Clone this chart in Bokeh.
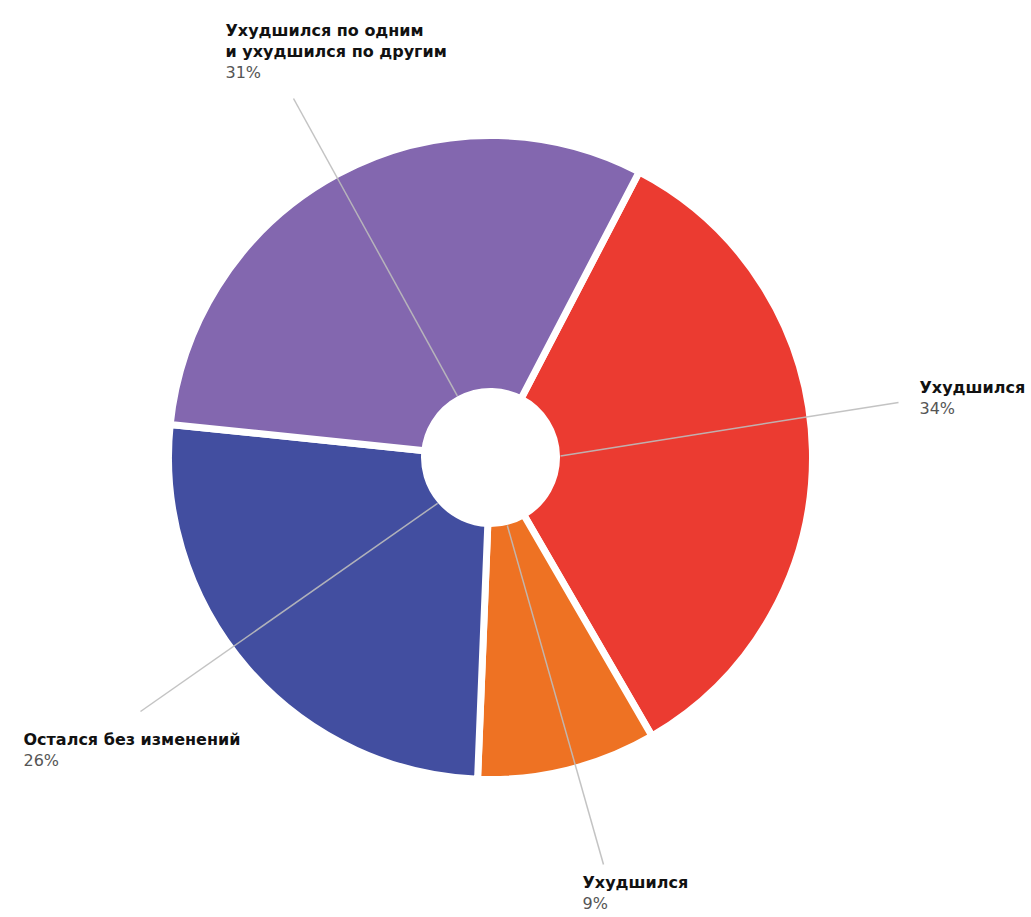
import math
from bokeh.plotting import figure
from bokeh.models import Range1d, ColumnDataSource
from bokeh.core.properties import value
from bokeh.embed import file_html
from bokeh.resources import INLINE

# ---- data ----
categories = ["Ухудшился", "Ухудшился", "Остался без изменений",
              "Ухудшился по одним|и ухудшился по другим"]
values = [34, 9, 26, 31]
pct_labels = ["34%", "9%", "26%", "31%"]
colors = ["#eb3b31", "#ee7223", "#424ea0", "#8367af"]

# ---- layout (screen pixels) ----
W, H = 1025, 912
START_DEG = 27.5            # clockwise from 12 o'clock
CX, CY = 490, 457           # pie centre (screen)
R_OUT, R_IN = 322, 66
label_pos = [(919, 377), (582, 872), (23, 729), (225, 20)]   # top of first text line
line_end = [(898, 402), (603, 864), (140, 711), (293, 98)]
LH = 21

def X(x):
    return x

def Y(y):
    return H - y

p = figure(width=W, height=H, output_backend="svg", toolbar_location=None,
           x_range=Range1d(0, W), y_range=Range1d(0, H), min_border=0)
p.axis.visible = False
p.grid.visible = False
p.outline_line_color = None
p.background_fill_color = "white"

total = sum(values)
starts, ends, mids = [], [], []
acc = START_DEG
for v in values:
    a0 = acc
    a1 = acc + 360.0 * v / total
    starts.append(math.radians(90 - a0))
    ends.append(math.radians(90 - a1))
    mids.append((a0 + a1) / 2)
    acc = a1

src = ColumnDataSource(dict(x=[X(CX)] * len(values), y=[Y(CY)] * len(values),
                            s=starts, e=ends, c=colors))
p.annular_wedge(x="x", y="y", inner_radius=R_IN, outer_radius=R_OUT,
                start_angle="s", end_angle="e", direction="clock",
                fill_color="c", line_color="white", line_width=7, source=src)

# leader lines
xs, ys = [], []
for m, (ex, ey) in zip(mids, line_end):
    sx = CX + 70 * math.sin(math.radians(m))
    sy = CY - 70 * math.cos(math.radians(m))
    xs.append([X(sx), X(ex)])
    ys.append([Y(sy), Y(ey)])
p.multi_line(xs=xs, ys=ys, line_color="#bdbdbd", line_width=1.5, line_alpha=0.9)

# labels
tx, ty, tt = [], [], []
px, py, pt = [], [], []
for cat, pc, (lx, ly) in zip(categories, pct_labels, label_pos):
    lines = cat.split("|")
    for i, ln in enumerate(lines):
        tx.append(X(lx)); ty.append(Y(ly + i * LH)); tt.append(ln)
    px.append(X(lx)); py.append(Y(ly + len(lines) * LH)); pt.append(pc)

p.text(x=tx, y=ty, text=tt, text_font=value("DejaVu Sans"), text_font_style="bold",
       text_font_size="16px", text_color="#111111", text_baseline="top", text_align="left")
p.text(x=px, y=py, text=pt, text_font=value("DejaVu Sans"),
       text_font_size="16px", text_color="#555555", text_baseline="top", text_align="left")

open("out.html", "w").write(file_html(p, INLINE))
